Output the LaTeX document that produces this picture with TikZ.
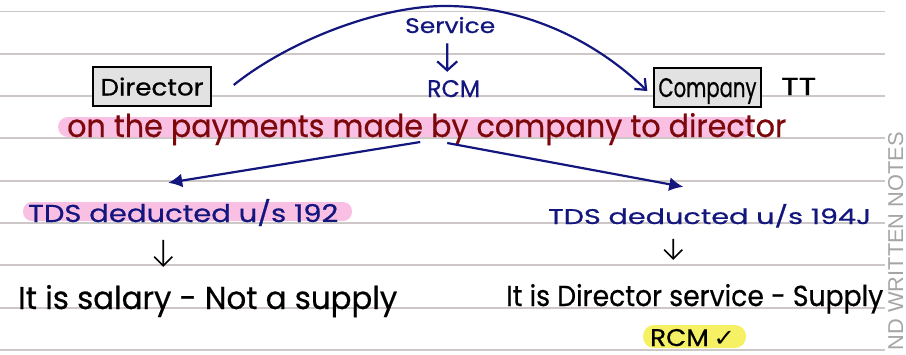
\documentclass[tikz,border=0pt]{standalone}
\usepackage{fontspec}
\usepackage{graphicx}
\setmainfont{Poppins}[FakeBold=0.6]
\newfontfamily\symfont{DejaVu Sans}
\newfontfamily\stampfont{Liberation Sans}
\usetikzlibrary{arrows.meta}

\definecolor{ink}{RGB}{18,22,125}
\definecolor{wine}{RGB}{125,8,12}
\definecolor{ruling}{RGB}{205,199,199}
\definecolor{hlpink}{RGB}{250,192,228}
\definecolor{hlyellow}{RGB}{246,240,100}
\definecolor{boxfill}{RGB}{226,226,226}
\definecolor{stampgray}{RGB}{165,165,165}

% text scaled to a given width and height (pt)
\newcommand\hw[3]{\resizebox{#1pt}{#2pt}{#3}}

\begin{document}
\begin{tikzpicture}[x=1pt,y=-1pt,
  txt/.style={inner sep=0pt, anchor=base west},
  namebox/.style={draw=black, line width=1.4pt, fill=boxfill, inner sep=0pt,
                  text depth=0pt, minimum height=39pt},
  ruleline/.style={ruling, line width=1.9pt},
  inkline/.style={ink, line width=2.2pt},
  bluearrow/.style={inkline, -{Latex[length=14pt,width=14pt]}},
  downarrow/.style={line width=1.6pt, -{Straight Barb[length=9pt,width=18pt]}},
]
\useasboundingbox (0,0) rectangle (906,354);

% notebook ruling
\foreach \yy in {11.5,53.8,96,138.3,180.6,223,265.3,307.6,350}
  \draw[ruleline] (0,\yy) -- (885,\yy);

% highlighter strokes
\fill[hlpink, rounded corners=10pt] (58,117) rectangle (753,137);
\fill[hlpink, rounded corners=9pt] (23,202) rectangle (352,221);
\fill[hlyellow, rounded corners=11pt] (643,325) rectangle (746,348);

% parties
\node[namebox, minimum width=118pt] (dir) at (152,86.5) {\hw{103}{18}{Director}};
\node[namebox, minimum width=107pt] (comp) at (707.5,87.5) {\hw{98}{19}{Company}};
\node[txt] (tt) at (781,95) {\hw{35}{17}{TT}};

% service / RCM
\node[txt, text=ink] (svc) at (405,33) {\hw{90}{16}{Service}};
\node[txt, text=ink] (rcm) at (427,97) {\hw{53}{17}{RCM}};

% payment line
\node[txt, text=wine] (pay) at (67,137)
  {\hw{719}{24}{on the payments made by company to director}};

% two cases
\node[txt, text=ink] (tdsL) at (28,222) {\hw{310}{23}{TDS deducted u/s 192}};
\node[txt] (sayL) at (18,309) {\hw{379}{24}{It is salary - Not a supply}};
\node[txt, text=ink] (tdsR) at (548,224) {\hw{323}{20}{TDS deducted u/s 194J}};
\node[txt] (sayR) at (506,306) {\hw{377}{22}{It is Director service - Supply}};
\node[txt] (rcmok) at (650,346) {\hw{85}{17}{RCM\,{\symfont ✓}}};

% side stamp
\node[rotate=90, anchor=base east, inner sep=0pt, text=stampgray] (stamp) at (903,132)
  {\stampfont\hw{218}{15}{ND WRITTEN NOTES}};

% connectors
\draw[inkline, -{Straight Barb[length=9pt,width=15pt]}]
  ([shift={(22,-1.5)}]dir.east)
  .. controls (290,40) and (380,6) .. (445,6)
  .. controls (530,6) and (600,45) .. ([shift={(-6,3.5)}]comp.west);
\draw[inkline, -{Straight Barb[length=9pt,width=20pt]}]
  ([shift={(-3,10)}]svc.south) -- ([shift={(-6.5,-8)}]rcm.north);
\draw[bluearrow] ([shift={(-6.5,5)}]pay.base) -- ([shift={(-15,-16)}]tdsL.north);
\draw[bluearrow] ([shift={(20.5,6)}]pay.base) -- ([shift={(-26.5,-17)}]tdsR.north);
\draw[downarrow] ([shift={(-20,41)}]tdsL.north) -- ([shift={(-44.5,-18)}]sayL.north);
\draw[downarrow] ([shift={(-36.5,35)}]tdsR.north) -- ([shift={(-21.5,-24)}]sayR.north);
\end{tikzpicture}
\end{document}
